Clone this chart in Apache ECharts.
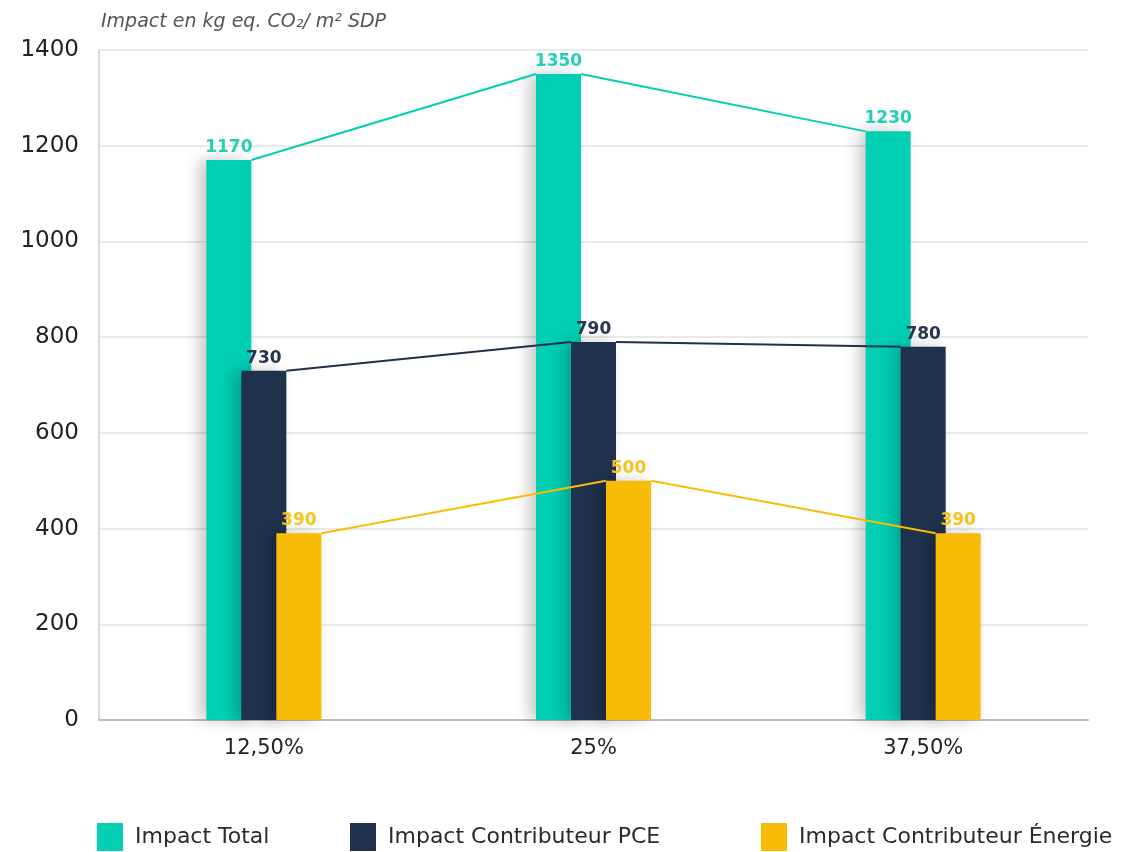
<!DOCTYPE html>
<html>
<head>
<meta charset="utf-8">
<script src="https://cdn.jsdelivr.net/npm/echarts@6/dist/echarts.min.js"></script>
<style>
html,body{margin:0;padding:0;background:#fff;}
#chart{width:1142px;height:852px;}
</style>
</head>
<body>
<div id="chart"></div>
<script>
const categories = ['12,50%', '25%', '37,50%'];
const seriesNames = ['Impact Total', 'Impact Contributeur PCE', 'Impact Contributeur Énergie'];
const impactTotal = [1170, 1350, 1230];
const impactPCE = [730, 790, 780];
const impactEnergie = [390, 500, 390];
const yTicks = { min: 0, max: 1400, interval: 200 };

const colors = ['#00CFB4', '#1F314D', '#F8BC07'];
const labelColors = ['#22D0B6', '#26364F', '#F7C21C'];
const FONT = '"DejaVu Sans", "Open Sans", sans-serif';
const BAR_W = 45;
const BAR_GAP = -10;
const allValues = [impactTotal, impactPCE, impactEnergie];

function barOffset(k) {
  const total = 3 * BAR_W + 2 * BAR_GAP;
  return -total / 2 + BAR_W / 2 + k * (BAR_W + BAR_GAP);
}

const barSeries = allValues.map((vals, k) => ({
  name: seriesNames[k],
  type: 'bar',
  data: vals,
  barWidth: BAR_W,
  barGap: (BAR_GAP / BAR_W * 100) + '%',
  z: 2 + k,
  itemStyle: {
    color: colors[k],
    shadowColor: 'rgba(0,0,0,0.22)',
    shadowBlur: 14,
    shadowOffsetX: -7
  },
  label: {
    show: true,
    position: 'top',
    distance: 4,
    color: labelColors[k],
    fontFamily: FONT,
    fontWeight: 'bold',
    fontSize: 17
  }
}));

const lineSeries = allValues.map((vals, k) => ({
  type: 'custom',
  name: seriesNames[k] + ' line',
  z: 10,
  silent: true,
  data: vals.map((v, i) => [i, v]),
  renderItem: function (params, api) {
    const i = api.value(0);
    if (i >= vals.length - 1) return null;
    const p1 = api.coord([i, vals[i]]);
    const p2 = api.coord([i + 1, vals[i + 1]]);
    const off = barOffset(k);
    return {
      type: 'polyline',
      shape: { points: [[p1[0] + off + BAR_W / 2, p1[1]], [p2[0] + off - BAR_W / 2, p2[1]]] },
      style: { stroke: colors[k], lineWidth: 2, fill: null }
    };
  }
}));

const legendLefts = [97, 350, 761];
const legends = seriesNames.map((n, k) => ({
  data: [n],
  left: legendLefts[k],
  top: 823,
  padding: 0,
  icon: 'rect',
  itemWidth: 26,
  itemHeight: 28,
  itemGap: 10,
  textStyle: { fontFamily: FONT, fontSize: 22, color: '#2a2a2a', padding: [0, 0, 0, 7] },
  selectedMode: false
}));

const chart = echarts.init(document.getElementById('chart'), null, { renderer: 'canvas' });
chart.setOption({
  backgroundColor: '#ffffff',
  animation: false,
  title: {
    text: 'Impact en kg eq. CO₂/ m² SDP',
    left: 96,
    top: 8,
    textStyle: { fontFamily: FONT, fontStyle: 'italic', fontWeight: 'normal', fontSize: 19, color: '#555' }
  },
  legend: legends,
  grid: { left: 99, right: 54, top: 50, bottom: 132, containLabel: false },
  xAxis: {
    type: 'category',
    data: categories,
    axisLine: { show: true, lineStyle: { color: '#bdbdbd', width: 2 } },
    axisTick: { show: false },
    axisLabel: { fontFamily: FONT, fontSize: 21, color: '#222', margin: 18 }
  },
  yAxis: {
    type: 'value',
    min: yTicks.min,
    max: yTicks.max,
    interval: yTicks.interval,
    axisLine: { show: true, lineStyle: { color: '#cfcfcf', width: 1.5 } },
    axisTick: { show: false },
    splitLine: { lineStyle: { color: '#e3e3e3', width: 1.5 } },
    axisLabel: { fontFamily: FONT, fontSize: 23, color: '#222', margin: 20, formatter: v => String(v) }
  },
  series: barSeries.concat(lineSeries)
});
</script>
</body>
</html>
